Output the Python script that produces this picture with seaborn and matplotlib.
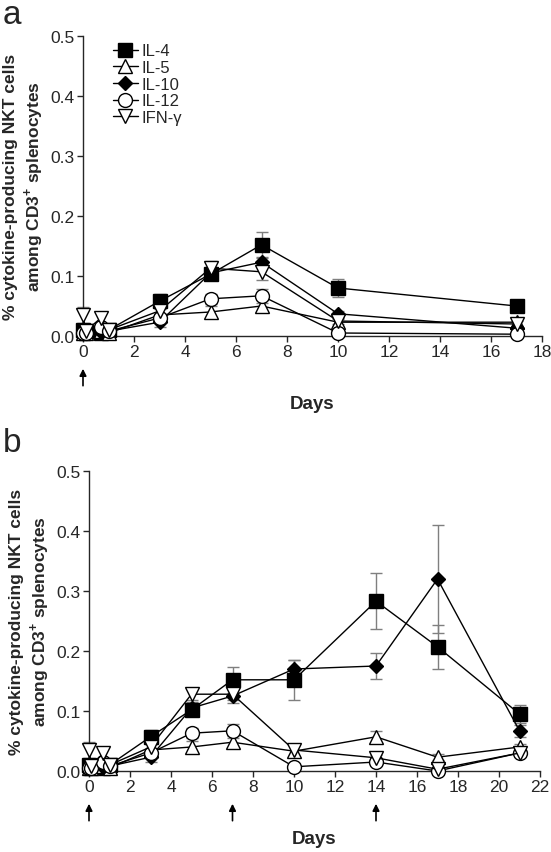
import numpy as np
import pandas as pd
import seaborn as sns
import matplotlib.pyplot as plt
from matplotlib.ticker import FormatStrFormatter

# ---- data ----
cytokines = ["IL-4", "IL-5", "IL-10", "IL-12", "IFN-γ"]

days_a = [0, 0.1, 0.7, 1, 3, 5, 7, 10, 17]
il4_a = [0.010, 0.008, 0.005, 0.010, 0.058, 0.103, 0.152, 0.080, 0.050]
il5_a = [0.005, 0.005, 0.008, 0.005, 0.035, 0.040, 0.050, 0.023, 0.023]
il10_a = [0.012, 0.008, 0.006, 0.008, 0.023, 0.105, 0.123, 0.037, 0.013]
il12_a = [0.005, 0.005, 0.015, 0.008, 0.030, 0.062, 0.067, 0.005, 0.003]
ifng_a = [0.035, 0.008, 0.030, 0.010, 0.042, 0.113, 0.107, 0.025, 0.020]
il4_a_err = [0.005, 0.004, 0.004, 0.005, 0.012, 0.010, 0.022, 0.015, 0.005]
il5_a_err = [0.003, 0.003, 0.004, 0.003, 0.010, 0.010, 0.010, 0.006, 0.006]
il10_a_err = [0.004, 0.003, 0.003, 0.004, 0.008, 0.010, 0.008, 0.005, 0.004]
il12_a_err = [0.003, 0.003, 0.005, 0.003, 0.006, 0.008, 0.012, 0.004, 0.004]
ifng_a_err = [0.013, 0.004, 0.010, 0.005, 0.010, 0.012, 0.013, 0.005, 0.005]

days_b = [0, 0.1, 0.7, 1, 3, 5, 7, 10, 14, 17, 21]
il4_b = [0.010, 0.008, 0.005, 0.010, 0.057, 0.102, 0.152, 0.152, 0.283, 0.207, 0.095]
il5_b = [0.005, 0.005, 0.008, 0.005, 0.035, 0.040, 0.048, 0.033, 0.057, 0.023, 0.040]
il10_b = [0.012, 0.008, 0.006, 0.008, 0.023, 0.105, 0.125, 0.170, 0.175, 0.320, 0.067]
il12_b = [0.005, 0.005, 0.015, 0.008, 0.030, 0.063, 0.067, 0.007, 0.015, 0.000, 0.030]
ifng_b = [0.035, 0.008, 0.030, 0.010, 0.040, 0.128, 0.128, 0.035, 0.022, 0.003, 0.030]
il4_b_err = [0.005, 0.004, 0.004, 0.005, 0.012, 0.010, 0.022, 0.033, 0.047, 0.037, 0.015]
il5_b_err = [0.003, 0.003, 0.004, 0.003, 0.010, 0.010, 0.010, 0.010, 0.010, 0.005, 0.005]
il10_b_err = [0.004, 0.003, 0.003, 0.004, 0.008, 0.010, 0.012, 0.015, 0.021, 0.090, 0.010]
il12_b_err = [0.003, 0.003, 0.005, 0.003, 0.006, 0.008, 0.012, 0.004, 0.005, 0.003, 0.004]
ifng_b_err = [0.013, 0.004, 0.010, 0.005, 0.010, 0.010, 0.010, 0.010, 0.005, 0.003, 0.004]

injections_a = [0]
injections_b = [0, 7, 14]

# marker style per cytokine
markers = {"IL-4": ("s", "black", 9.5), "IL-5": ("^", "white", 10.5),
           "IL-10": ("D", "black", 7), "IL-12": ("o", "white", 10),
           "IFN-γ": ("v", "white", 10.5)}

sns.set_style("ticks")
plt.rcParams["font.family"] = ["Liberation Sans", "DejaVu Sans"]
plt.rcParams["mathtext.fontset"] = "custom"
plt.rcParams["mathtext.rm"] = "Liberation Sans"
plt.rcParams["mathtext.bf"] = "Liberation Sans:bold"


def draw_panel(ax, days, values, errors, xmax, injections):
    for name, y, e in zip(cytokines, values, errors):
        ax.errorbar(days, y, yerr=e, fmt="none", ecolor="#7f7f7f", elinewidth=1,
                    capsize=4.5, capthick=1, zorder=2, clip_on=False)
    for name, y in zip(cytokines, values):
        m, fc, ms = markers[name]
        df = pd.DataFrame({"day": days, "pct": y})
        sns.lineplot(data=df, x="day", y="pct", ax=ax, color="black", lw=1,
                     marker=m, markersize=ms, markerfacecolor=fc,
                     markeredgecolor="black", markeredgewidth=1,
                     label=name, clip_on=False, zorder=3, legend=False)
    ax.set_xlim(0, xmax)
    ax.set_ylim(0, 0.5)
    ax.set_xticks(range(0, xmax + 1, 2))
    ax.set_yticks(np.arange(0, 0.51, 0.1))
    ax.yaxis.set_major_formatter(FormatStrFormatter("%.1f"))
    ax.tick_params(labelsize=12.5, length=4, width=1, pad=2)
    for s in ["left", "bottom"]:
        ax.spines[s].set_linewidth(1)
    sns.despine(ax=ax)
    ax.set_xlabel("Days", fontsize=13.5, fontweight="bold", labelpad=26)
    ax.set_ylabel("% cytokine-producing NKT cells\namong CD3$^{\\mathbf{+}}$ splenocytes",
                  fontsize=12.5, fontweight="bold", labelpad=4, linespacing=1.25)
    for d in injections:
        ax.annotate("", xy=(d, -0.10), xytext=(d, -0.175),
                    xycoords=("data", "axes fraction"),
                    textcoords=("data", "axes fraction"),
                    arrowprops=dict(arrowstyle="-|>", color="black", lw=1.2,
                                    mutation_scale=10),
                    annotation_clip=False)


W, H = 551, 853
fig = plt.figure(figsize=(W / 100, H / 100), dpi=100)
ax_a = fig.add_axes([83 / W, 1 - 337 / H, 459 / W, 300 / H])
ax_b = fig.add_axes([89 / W, 1 - 772 / H, 451 / W, 300 / H])

draw_panel(ax_a, days_a, [il4_a, il5_a, il10_a, il12_a, ifng_a],
           [il4_a_err, il5_a_err, il10_a_err, il12_a_err, ifng_a_err], 18, injections_a)
draw_panel(ax_b, days_b, [il4_b, il5_b, il10_b, il12_b, ifng_b],
           [il4_b_err, il5_b_err, il10_b_err, il12_b_err, ifng_b_err], 22, injections_b)

ax_a.legend(loc="upper left", bbox_to_anchor=(0.065, 0.975), frameon=False,
            fontsize=12, handlelength=1.5, handletextpad=0.2,
            labelspacing=0.1, borderaxespad=0, borderpad=0)

fig.text(0.005, 1 - 24 / H, "a", fontsize=24, va="baseline")
fig.text(0.005, 1 - 452 / H, "b", fontsize=24, va="baseline")

fig.savefig("out.png", dpi=100)
